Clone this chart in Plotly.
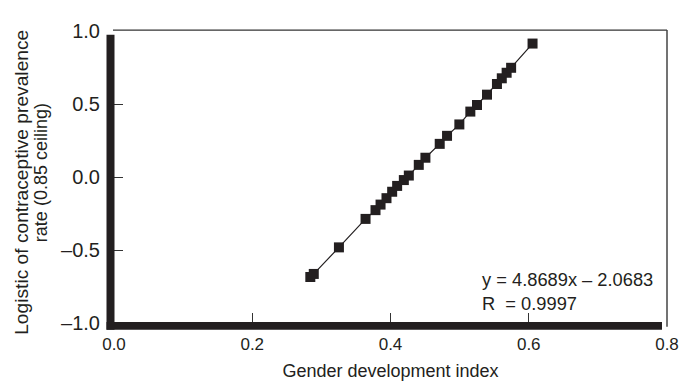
import plotly.graph_objects as go

# Data
gdi = [0.284, 0.289, 0.3254, 0.3639, 0.3783, 0.3856, 0.3942, 0.4024, 0.4096,
       0.4193, 0.4265, 0.4409, 0.4505, 0.4712, 0.4818, 0.4996, 0.5155, 0.5251,
       0.5396, 0.5540, 0.5610, 0.5680, 0.5745, 0.6055]
logit_cpr = [-0.685, -0.664, -0.482, -0.287, -0.227, -0.189, -0.145, -0.101, -0.061,
             -0.021, 0.010, 0.083, 0.132, 0.227, 0.282, 0.360, 0.448, 0.493,
             0.564, 0.637, 0.676, 0.714, 0.748, 0.914]

x_ticks = [0.0, 0.2, 0.4, 0.6, 0.8]
x_ticktext = ["0.0", "0.2", "0.4", "0.6", "0.8"]
y_ticks = [-1.0, -0.5, 0.0, 0.5, 1.0]
y_ticktext = ["\u20131.0", "\u20130.5", "0.0", "0.5", "1.0"]

dark = "#231f20"
font_family = "Liberation Sans, Arial, sans-serif"

# figure geometry (pixels)
W, H = 694, 385
L, R, T, B = 106, 35, 13, 70
PW, PH = W - L - R, H - T - B


def px(xp):
    return (xp - L) / PW


def py(yp):
    return (H - B - yp) / PH


fig = go.Figure()
fig.add_trace(go.Scatter(
    x=gdi, y=logit_cpr, mode="lines+markers",
    line=dict(color=dark, width=1.2),
    marker=dict(symbol="square", size=10, color=dark),
    showlegend=False,
))

fig.add_annotation(
    x=0.5295, y=-0.781, xref="x", yref="y",
    text="y = 4.8689x \u2013 2.0683<br>R\u00a0\u00a0= 0.9997",
    showarrow=False, xanchor="left", yanchor="middle", align="left",
    font=dict(size=18.3, color=dark, family=font_family),
)

# y-axis title (two lines)
fig.add_annotation(
    x=px(14), y=py(170), xref="paper", yref="paper",
    text="Logistic of contraceptive prevalence", textangle=-90,
    showarrow=False, xanchor="center", yanchor="middle",
    font=dict(size=19.2, color=dark, family=font_family),
)
fig.add_annotation(
    x=px(33), y=py(160), xref="paper", yref="paper",
    text="rate (0.85 ceiling)", textangle=-90,
    showarrow=False, xanchor="center", yanchor="middle",
    font=dict(size=18, color=dark, family=font_family),
)

# thin top and right frame lines
fig.add_shape(type="line", xref="paper", yref="paper", x0=px(105), x1=px(659), y0=py(12), y1=py(12),
              line=dict(color="#333333", width=1.3))
fig.add_shape(type="line", xref="paper", yref="paper", x0=px(659), x1=px(659), y0=py(319), y1=py(12),
              line=dict(color="#444444", width=1.5))
# thick left and bottom frame bars
fig.add_shape(type="rect", xref="paper", yref="paper", x0=px(98.5), x1=px(106.5), y0=py(322), y1=py(17),
              fillcolor=dark, line=dict(width=0))
fig.add_shape(type="rect", xref="paper", yref="paper", x0=px(98.5), x1=px(654), y0=py(322), y1=py(314),
              fillcolor=dark, line=dict(width=0))

fig.update_layout(
    width=W, height=H,
    margin=dict(l=L, r=R, t=T, b=B),
    paper_bgcolor="white", plot_bgcolor="white",
    font=dict(family=font_family, size=17, color=dark),
    xaxis=dict(
        range=[0, 0.8], tickvals=x_ticks, ticktext=x_ticktext,
        showgrid=False, zeroline=False, showline=False,
        ticks="inside", ticklen=10, tickwidth=1.2, tickcolor="#333333",
        tickfont=dict(size=17),
        ticklabelstandoff=9,
        title=dict(text="Gender development index", font=dict(size=18), standoff=11),
    ),
    yaxis=dict(
        range=[-1, 1], tickvals=y_ticks, ticktext=y_ticktext,
        showgrid=False, zeroline=False, showline=False,
        ticks="inside", ticklen=9, tickwidth=1.2, tickcolor="#333333",
        tickfont=dict(size=20),
        ticklabelstandoff=13,
    ),
)

fig.write_html("out.html")
